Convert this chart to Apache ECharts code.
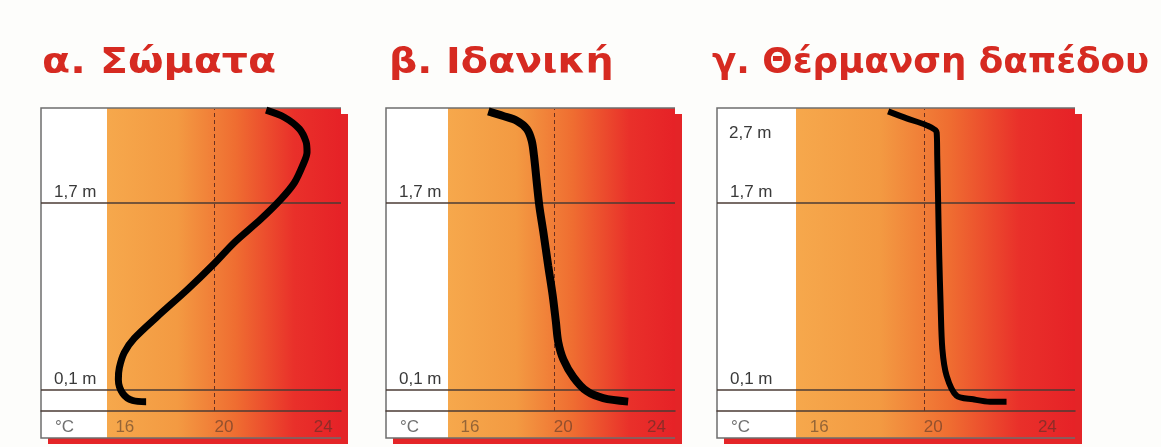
<!DOCTYPE html>
<html>
<head>
<meta charset="utf-8">
<script src="https://cdn.jsdelivr.net/npm/echarts@6/dist/echarts.min.js"></script>
<style>
  html, body { margin: 0; background: #fdfdfb; }
  #chart { width: 1161px; height: 447px; }
</style>
</head>
<body>
<div id="chart"></div>
<script>
// Vertical air-temperature profiles in a room (temperature °C vs height m).
const titles = ["α. Σώματα", "β. Ιδανική", "γ. Θέρμανση δαπέδου"];
const tempTicks = [16, 20, 24];
const refTemp = 20;
const heightLines = [0.1, 1.7];
const heightLabels = ["0,1 m", "1,7 m"];
const ceilingLabel = "2,7 m";

// α. radiators
const radTemp = [22.08, 22.81, 23.42, 23.69, 23.73, 23.56, 23.22, 22.68, 21.87, 20.8, 19.99,
  18.92, 17.71, 16.76, 16.36, 16.16, 16.12, 16.3, 16.7, 17.24];
const radHeight = [2.49, 2.43, 2.33, 2.22, 2.13, 2.02, 1.87, 1.73, 1.56, 1.36, 1.18,
  0.96, 0.73, 0.54, 0.42, 0.29, 0.19, 0.07, 0.01, 0];

// β. ideal
const idealTemp = [17.19, 17.83, 18.41, 18.84, 19.05, 19.15, 19.27, 19.38, 19.55, 19.76,
  19.95, 20.09, 20.19, 20.41, 20.84, 21.41, 22.12, 23.19];
const idealHeight = [2.48, 2.44, 2.4, 2.33, 2.23, 2.1, 1.87, 1.67, 1.45, 1.16,
  0.91, 0.68, 0.51, 0.36, 0.21, 0.09, 0.03, 0];

// γ. underfloor heating
const floorTemp = [18.75, 19.4, 20.1, 20.45, 20.47, 20.5, 20.54, 20.59, 20.65, 20.8,
  21.15, 21.73, 22.32, 22.9];
const floorHeight = [2.48, 2.42, 2.36, 2.3, 2.1, 1.73, 1.25, 0.82, 0.45, 0.22,
  0.05, 0.02, 0, 0];

// panel layout (px) and temperature range of each panel
const panels = [
  { left: 41, width: 300, gradOff: 66, xMin: 13, xMax: 25.1, lw: 7, temp: radTemp, h: radHeight },
  { left: 386, width: 289, gradOff: 62, xMin: 12.8, xMax: 25.2, lw: 8, temp: idealTemp, h: idealHeight },
  { left: 717, width: 358, gradOff: 79, xMin: 12.75, xMax: 25.3, lw: 6, temp: floorTemp, h: floorHeight },
];
// title text is a bit wider in the original than DejaVu, so stretch it a little
const titlePos = [[42, 1.17], [389, 1.13], [712, 1.02]];
const boxTop = 108, boxBottom = 438, gridTop = 109, gridHeight = 302;

const font = "'Liberation Sans', Arial, sans-serif";
const heat = () => new echarts.graphic.LinearGradient(0, 0, 1, 0, [
  { offset: 0, color: "#f6a84c" },
  { offset: 0.3, color: "#f39a42" },
  { offset: 0.55, color: "#ef6d31" },
  { offset: 0.8, color: "#e9302a" },
  { offset: 1, color: "#e62227" },
]);

const graphic = [];
titles.forEach((t, i) => {
  graphic.push({
    type: "text", z: 0, x: titlePos[i][0], y: 64, scaleX: titlePos[i][1],
    style: { text: t, font: "bold 35px 'DejaVu Sans', sans-serif", fill: "#d62a21", verticalAlign: "middle" },
  });
});
panels.forEach((p, i) => {
  const h = boxBottom - boxTop;
  graphic.push(
    { type: "rect", z: 0, z2: 0, shape: { x: p.left + 7, y: boxTop + 6, width: p.width, height: h },
      style: { fill: "#e42427" } },
    { type: "rect", z: 0, z2: 1, shape: { x: p.left, y: boxTop, width: p.width, height: h },
      style: { fill: "#ffffff" } },
    { type: "rect", z: 0, z2: 2, shape: { x: p.left + p.gradOff, y: boxTop, width: p.width - p.gradOff, height: h },
      style: { fill: heat() } },
    { type: "polyline", z: 0, z2: 3,
      shape: { points: [[p.left + p.width, boxTop], [p.left, boxTop], [p.left, boxBottom], [p.left + p.width, boxBottom]] },
      style: { stroke: "#6e6e6e", lineWidth: 1.5, fill: null } },
    { type: "text", z: 0, z2: 4, x: p.left + 14, y: 427,
      style: { text: "°C", font: "17px " + font, fill: "#707070", verticalAlign: "middle" } }
  );
  if (i === 2) {
    graphic.push({ type: "text", z: 0, z2: 4, x: p.left + 12, y: 133,
      style: { text: ceilingLabel, font: "17px " + font, fill: "#3a3a3a", verticalAlign: "middle" } });
  }
});

const chart = echarts.init(document.getElementById("chart"));
chart.setOption({
  animation: false,
  graphic,
  grid: panels.map((p) => ({ left: p.left, top: gridTop, width: p.width, height: gridHeight })),
  xAxis: panels.map((p, i) => ({
    type: "value", gridIndex: i, min: p.xMin, max: p.xMax, z: 3,
    axisLine: { show: true, onZero: false, lineStyle: { color: "#4b3b35", width: 1.5 } },
    axisTick: { show: false },
    splitLine: { show: false },
    axisLabel: {
      customValues: tempTicks, margin: 8, fontSize: 17, fontFamily: font, align: "left",
      color: "rgba(70,50,40,0.55)",
    },
  })),
  yAxis: panels.map((p, i) => ({
    type: "value", gridIndex: i, min: -0.08, max: 2.5, show: false,
  })),
  series: panels.map((p, i) => ({
    type: "line", xAxisIndex: i, yAxisIndex: i, z: 5,
    data: p.temp.map((t, k) => [t, p.h[k]]),
    showSymbol: false, smooth: 0.3,
    lineStyle: { color: "#000", width: p.lw },
    markLine: {
      silent: true, symbol: "none", z: 4,
      data: [
        ...heightLines.map((v, k) => ({
          yAxis: v,
          lineStyle: { color: "#4b3b35", width: 1.5, type: "solid" },
          label: { show: true, formatter: heightLabels[k], position: "insideStartTop",
            distance: [13, 2], color: "#3a3a3a", fontSize: 17, fontFamily: font },
        })),
        { xAxis: refTemp, lineStyle: { color: "#6b3020", width: 1, type: [4, 3] }, label: { show: false } },
      ],
    },
  })),
});
</script>
</body>
</html>
